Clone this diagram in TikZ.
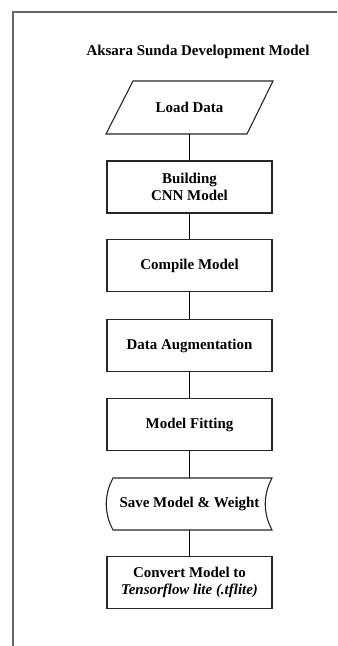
\documentclass[tikz,border=0pt]{standalone}
\usepackage{fontspec}
\setmainfont{Liberation Serif}
\begin{document}
\begin{tikzpicture}[x=1bp,y=-1bp,
  boxline/.style={draw=black!85, line width=1.1bp},
  stepbox/.style={boxline, rectangle, minimum width=165bp, minimum height=52bp, inner sep=0pt, align=center, font=\bfseries\fontsize{15}{17.5}\selectfont},
  plain/.style={rectangle, minimum width=140bp, minimum height=52bp, inner sep=0pt, align=center, font=\bfseries\fontsize{15}{17.5}\selectfont},
  link/.style={draw=black, line width=1bp}]
\useasboundingbox (0,0) rectangle (337,646);
\fill[white] (0,0) rectangle (337,646);
% outer frame
\draw[draw=black!60, line width=1.3bp] (13,646) -- (13,12) -- (337,12);
% title
\node[font=\bfseries\fontsize{15}{17}\selectfont] (title) at (198,52) {Aksara Sunda Development Model};
% load data parallelogram
\node[plain] (load) at (189.5,107.5) {Load Data};
\draw[boxline] (106,134) -- (133,81) -- (273,81) -- (247,134) -- cycle;
\node[stepbox] (build) at (189.5,187) {Building\\CNN Model};
\node[stepbox] (compile) at (189.5,265.5) {Compile Model};
\node[stepbox] (aug) at (189.5,345.5) {Data Augmentation};
\node[stepbox] (fit) at (189.5,424.5) {Model Fitting};
\node[plain, minimum width=150bp] (save) at (189.5,504) {Save Model \& Weight};
\draw[boxline] (113,478) -- (272,478) .. controls (263,495) and (263,513) .. (272,530) -- (113,530) .. controls (104,513) and (104,495) .. (113,478) -- cycle;
\node[stepbox] (conv) at (189.5,582.5) {Convert Model to\\\textit{Tensorflow lite (.tflite)}};
% connectors
\draw[link] (load.south) -- (build.north);
\draw[link] (build.south) -- (compile.north);
\draw[link] (compile.south) -- (aug.north);
\draw[link] (aug.south) -- (fit.north);
\draw[link] (fit.south) -- (save.north);
\draw[link] (save.south) -- (conv.north);
\end{tikzpicture}
\end{document}
